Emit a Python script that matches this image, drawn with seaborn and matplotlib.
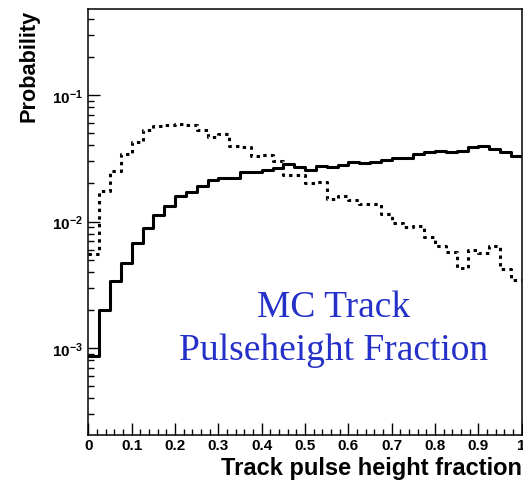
import matplotlib
matplotlib.use("Agg")
import matplotlib.pyplot as plt
import numpy as np
import pandas as pd
import seaborn as sns
from matplotlib.ticker import FixedLocator, FuncFormatter, LogLocator, MultipleLocator, NullFormatter

# 40 equal-width bins over the pulse-height fraction range [0, 1]
bin_edges = np.linspace(0.0, 1.0, 41)
bin_centers = 0.5 * (bin_edges[:-1] + bin_edges[1:])

# Normalised bin contents (probability per bin)
prob_solid = [
    8.6e-4, 2.0e-3, 3.4e-3, 4.7e-3, 6.8e-3, 8.9e-3, 1.13e-2, 1.32e-2,
    1.59e-2, 1.71e-2, 1.90e-2, 2.12e-2, 2.23e-2, 2.23e-2, 2.45e-2, 2.45e-2,
    2.55e-2, 2.65e-2, 2.85e-2, 2.69e-2, 2.56e-2, 2.73e-2, 2.72e-2, 2.78e-2,
    2.95e-2, 2.90e-2, 2.98e-2, 3.09e-2, 3.17e-2, 3.20e-2, 3.43e-2, 3.54e-2,
    3.64e-2, 3.54e-2, 3.64e-2, 3.87e-2, 3.99e-2, 3.76e-2, 3.57e-2, 3.33e-2,
]
prob_dotted = [
    5.5e-3, 1.76e-2, 2.53e-2, 3.43e-2, 4.25e-2, 5.33e-2, 5.74e-2, 5.85e-2,
    5.90e-2, 5.80e-2, 5.33e-2, 4.70e-2, 4.93e-2, 3.96e-2, 3.89e-2, 3.30e-2,
    3.37e-2, 3.03e-2, 2.34e-2, 2.33e-2, 2.00e-2, 2.04e-2, 1.50e-2, 1.60e-2,
    1.48e-2, 1.38e-2, 1.37e-2, 1.15e-2, 9.8e-3, 9.0e-3, 9.25e-3, 7.5e-3,
    6.46e-3, 5.73e-3, 4.3e-3, 5.97e-3, 5.66e-3, 6.43e-3, 4.23e-3, 3.42e-3,
]

x_ticks = [0.0, 0.1, 0.2, 0.3, 0.4, 0.5, 0.6, 0.7, 0.8, 0.9, 1.0]
x_tick_labels = ["0", "0.1", "0.2", "0.3", "0.4", "0.5", "0.6", "0.7", "0.8", "0.9", "1"]
y_decades = [1e-3, 1e-2, 1e-1]

x_title = "Track pulse height fraction"
y_title = "Probability"
note_lines = ["MC Track", "Pulseheight Fraction"]

sns.set_style("white")
plt.rcParams["font.family"] = ["Liberation Sans", "DejaVu Sans"]
plt.rcParams["mathtext.fontset"] = "custom"
plt.rcParams["mathtext.rm"] = "Liberation Sans"
plt.rcParams["mathtext.bf"] = "Liberation Sans:bold"
for key in ("text.color", "axes.labelcolor", "xtick.color", "ytick.color",
            "xtick.labelcolor", "ytick.labelcolor", "axes.edgecolor"):
    plt.rcParams[key] = "black"

W, H = 523, 481
fig = plt.figure(figsize=(W / 100, H / 100), dpi=100)
ax_left, ax_right, ax_top, ax_bottom = 88.4, 521.7, 10, 436
ax = fig.add_axes([ax_left / W, 1 - ax_bottom / H,
                   (ax_right - ax_left) / W, (ax_bottom - ax_top) / H])

solid_df = pd.DataFrame({"fraction": bin_centers, "prob": prob_solid})
dotted_df = pd.DataFrame({"fraction": bin_centers, "prob": prob_dotted})
edges_list = [float(e) for e in bin_edges]

sns.histplot(data=solid_df, x="fraction", weights="prob", bins=edges_list,
             element="step", fill=False, color="black", linewidth=2.2, ax=ax)
sns.histplot(data=dotted_df, x="fraction", weights="prob", bins=edges_list,
             element="step", fill=False, color="black", linewidth=2.2,
             linestyle=(0, (1.1, 1.4)), ax=ax)

ax.set_yscale("log")
ax.set_xlim(0, 1)
ax.set_ylim(2.05e-4, 0.48)

ax.xaxis.set_major_locator(FixedLocator(x_ticks))
ax.set_xticklabels(x_tick_labels)
ax.xaxis.set_minor_locator(MultipleLocator(0.02))

ax.yaxis.set_major_locator(FixedLocator(y_decades))
ax.yaxis.set_major_formatter(FuncFormatter(
    lambda v, p: r"$\mathbf{10^{%d}}$" % int(round(np.log10(v)))))
ax.yaxis.set_minor_locator(LogLocator(base=10, subs=np.arange(2, 10)))
ax.yaxis.set_minor_formatter(NullFormatter())

ax.tick_params(which="both", direction="in", bottom=True, left=True,
               top=False, right=False, width=1.0, color="black")
ax.tick_params(which="major", length=8.5)
ax.tick_params(which="minor", length=4.5)
ax.tick_params(axis="x", which="major", labelsize=11, pad=2, labelcolor="black")
ax.tick_params(axis="y", which="major", labelsize=11, pad=4, labelcolor="black")
for lab in ax.get_xticklabels():
    lab.set_fontweight("bold")

for sp in ax.spines.values():
    sp.set_color("black")
    sp.set_linewidth(1.1)

ax.set_xlabel(x_title, fontsize=17, fontweight="bold", loc="right", color="black")
ax.xaxis.set_label_coords(1.0, -0.049)
ax.set_ylabel(y_title, fontsize=15.6, fontweight="bold", loc="top", color="black")
ax.yaxis.set_label_coords(-0.112, 1.0)

note_x = 334 / W
for line, baseline in zip(note_lines, [316.7, 360.0]):
    fig.text(note_x, 1 - baseline / H, line, ha="center", va="baseline",
             family=["Liberation Serif", "DejaVu Serif"], fontsize=27, color="#2430c8")

fig.savefig("out.png", dpi=100)
